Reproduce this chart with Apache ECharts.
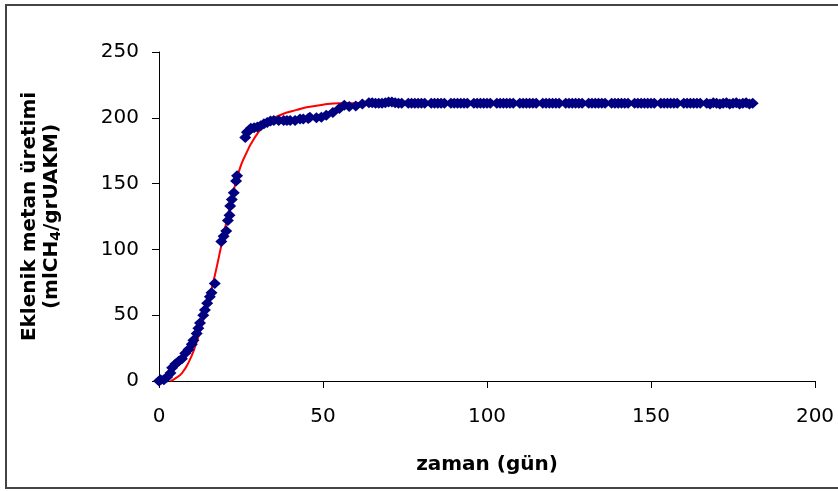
<!DOCTYPE html>
<html>
<head>
<meta charset="utf-8">
<script src="https://cdn.jsdelivr.net/npm/echarts@6/dist/echarts.min.js"></script>
<style>html,body{margin:0;padding:0;background:#fff;}#c{width:838px;height:491px;}</style>
</head>
<body>
<div id="c"></div>
<script>
// Measured data: time (days) and cumulative methane production
const obsDays = [
  0,0.5,1.5,2.5,3.5,4,5,6,7,8,
  9,10,10.5,11.5,12,12.5,13.5,14,14.7,15.5,
  16,17,19,19.7,20.5,21,21.5,21.7,22.2,22.8,
  23.5,23.8,26.3,26.8,27.3,28,29,30,31,32,
  33,34,35,36.5,38,39,40,41.5,43,44,
  45.5,46,48,49.5,51,53,55,56.5,58,60,
  62,64,
  65,66,67,68,69,70,71,72,73,74,
  76,77,78,79,80,81,83,84,85,86,
  87,89,90,91,92,93,94,96,97,98,
  99,100,101,103,104,105,106,107,108,110,
  111,112,113,114,115,117,118,119,120,121,
  122,124,125,126,127,128,129,131,132,133,
  134,135,136,138,139,140,141,142,143,145,
  146,147,148,149,150,151,153,154,155,156,
  157,158,160,161,162,163,164,165,167,168,
  169,170,171,172,173,174,175,176,177,178,
  179,180,181];
const obsMethane = [
  0,1,1,3,6,10,13,15,17,21,
  24,28,31,36,40,44,50,54,59,64,
  67,74,106,110,114,122,126,133,138,143,
  152,156,185,189,190,192,192.5,193,194,195.5,
  196.5,197.5,198,198,198,198,198,198,199,199,
  199.5,200.5,200,200.5,202,204,207,209.5,208.5,209,
  210.5,211.5,
  211.5,211,211,211,211.5,212,212,211.5,211,211,
  211,211,211,211,211,211,211,211,211,211,
  211,211,211,211,211,211,211,211,211,211,
  211,211,211,211,211,211,211,211,211,211,
  211,211,211,211,211,211,211,211,211,211,
  211,211,211,211,211,211,211,211,211,211,
  211,211,211,211,211,211,211,211,211,211,
  211,211,211,211,211,211,211,211,211,211,
  211,211,211,211,211,211,211,211,211,210.5,
  211.5,211,210.5,211,211.5,210.5,211,211.5,210.5,211,
  211.5,210.5,211];
// Fitted model curve
const fitDays = [3.5,5,7,9,11,13,15,17,19,21,23,25,27,28,30,32,34,36,39,42,45,50,55,60,80,120,181];
const fitMethane = [0,2,6,14,26,42,60,80,103,126,147,164,175,180,188,194,198,201,204,206,208,210,211,211,211,211,211];
// Axis ticks
const xTicks = [0,50,100,150,200];
const yTicks = [0,50,100,150,200,250];

const obs = obsDays.map((d,i)=>[d,obsMethane[i]]);
const fit = fitDays.map((d,i)=>[d,fitMethane[i]]);

const chart = echarts.init(document.getElementById('c'), null, {renderer:'canvas'});
const labelFont = {fontFamily:'DejaVu Sans', fontSize:20, color:'#000'};
chart.setOption({
  animation:false,
  backgroundColor:'#fff',
  graphic:[{type:'rect', shape:{x:6,y:5,width:845,height:483}, style:{fill:'none', stroke:'#444', lineWidth:2}, silent:true}],
  grid:{left:159, right:23, top:52, bottom:110, containLabel:false},
  xAxis:{type:'value', min:xTicks[0], max:xTicks[xTicks.length-1], interval:50,
    name:'zaman (gün)', nameLocation:'middle', nameGap:74,
    nameTextStyle:{fontFamily:'DejaVu Sans', fontWeight:'bold', fontSize:20, color:'#000'},
    axisLine:{lineStyle:{color:'#000', width:1}}, axisTick:{show:true, length:7, lineStyle:{color:'#000'}},
    axisLabel:Object.assign({margin:26}, labelFont), splitLine:{show:false}},
  yAxis:{type:'value', min:yTicks[0], max:yTicks[yTicks.length-1], interval:50,
    name:'Eklenik metan üretimi\n(mlCH{sub|4}/grUAKM)', nameLocation:'middle', nameGap:96, nameRotate:90,
    nameTextStyle:{fontFamily:'DejaVu Sans', fontWeight:'bold', fontSize:20, color:'#000', lineHeight:22, align:'center',
      rich:{sub:{fontFamily:'DejaVu Sans', fontWeight:'bold', fontSize:14, verticalAlign:'bottom', padding:[8,0,0,0], color:'#000'}}},
    axisLine:{show:true, lineStyle:{color:'#000', width:1}}, axisTick:{show:true, length:7, lineStyle:{color:'#000'}},
    axisLabel:Object.assign({margin:20}, labelFont), splitLine:{show:false}},
  series:[
    {type:'line', data:fit, smooth:true, showSymbol:false, lineStyle:{color:'#ff0000', width:2}, z:2},
    {type:'scatter', data:obs, symbol:'diamond', symbolSize:[12,11], itemStyle:{color:'#000080', opacity:1}, z:3}
  ]
});
</script>
</body>
</html>
